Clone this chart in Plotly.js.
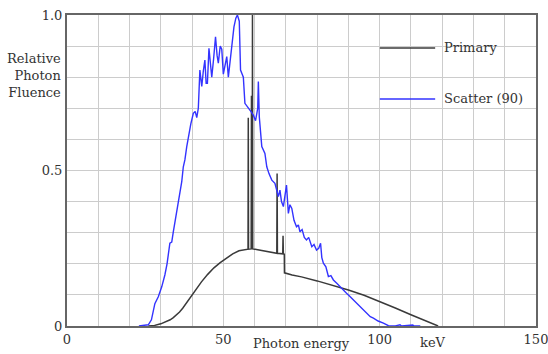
<!DOCTYPE html>
<html>
<head>
<meta charset="utf-8">
<script src="https://cdn.plot.ly/plotly-3.0.1.min.js"></script>
<style>html,body{margin:0;padding:0;background:#fff;}#chart{width:548px;height:354px;}</style>
</head>
<body>
<div id="chart"></div>
<script>
// Primary spectrum (keV, relative fluence) incl. tungsten characteristic lines
const primaryKeV = [26, 28, 30, 32, 33, 34, 35, 36, 37, 38, 39, 40, 41, 43, 45, 47, 49, 51, 53, 55, 57, 57.9, 57.98, 58.06, 58.9, 59.0, 59.1, 59.25, 59.32, 59.4, 61, 63, 65, 67.1, 67.2, 67.3, 69.0, 69.1, 69.2, 69.5, 69.55, 72, 75, 80, 85, 90, 95, 100, 105, 110, 115, 118.7];
const primaryFluence = [0, 0.002, 0.007, 0.014, 0.02, 0.027, 0.035, 0.045, 0.057, 0.071, 0.086, 0.101, 0.115, 0.142, 0.166, 0.187, 0.204, 0.219, 0.232, 0.242, 0.246, 0.247, 0.67, 0.247, 0.248, 0.74, 0.248, 0.248, 1.0, 0.248, 0.245, 0.241, 0.237, 0.234, 0.49, 0.234, 0.232, 0.29, 0.232, 0.231, 0.171, 0.164, 0.158, 0.145, 0.131, 0.116, 0.099, 0.079, 0.058, 0.036, 0.014, 0];

// Scatter (90 deg) spectrum
const scatterKeV = [23, 24.5, 26, 27, 28.1, 29.2, 30.3, 31.3, 32, 32.9, 33.5, 34.0, 34.8, 35.6, 36.2, 36.7, 37.2, 37.7, 38.3, 39.0, 39.6, 40.4, 41.0, 41.5, 42.0, 42.5, 43.1, 43.6, 44.1, 44.5, 44.9, 45.4, 46.3, 46.9, 47.5, 48.0, 48.4, 49.0, 49.5, 50.0, 50.5, 51.1, 51.6, 52.2, 52.7, 53.4, 54.0, 54.5, 55.1, 55.5, 56.0, 56.4, 56.9, 57.4, 58.0, 58.8, 59.6, 60.3, 61.0, 61.2, 61.5, 62.3, 63.3, 63.9, 64.6, 65.5, 66.5, 67.0, 67.6, 68.1, 68.6, 69.2, 69.7, 70.2, 70.8, 71.3, 71.9, 72.6, 73.4, 74.0, 74.5, 75.2, 75.9, 76.6, 77.3, 78.3, 79.0, 79.8, 80.5, 81.1, 81.5, 82.0, 82.8, 83.6, 84.4, 85.2, 86.2, 87.3, 88.3, 89.4, 90.5, 91.6, 92.6, 93.7, 94.8, 95.8, 97.0, 98.0, 99.5, 101.2, 102.8, 105, 106.5, 107, 110.6, 111, 113];
const scatterFluence = [0, 0.003, 0.004, 0.02, 0.072, 0.094, 0.126, 0.164, 0.2, 0.266, 0.27, 0.303, 0.35, 0.395, 0.43, 0.464, 0.512, 0.534, 0.577, 0.62, 0.65, 0.684, 0.69, 0.67, 0.70, 0.823, 0.77, 0.82, 0.855, 0.78, 0.78, 0.893, 0.80, 0.86, 0.93, 0.87, 0.845, 0.9, 0.89, 0.81, 0.84, 0.866, 0.80, 0.85, 0.91, 0.962, 0.99, 1.0, 0.98, 0.823, 0.81, 0.80, 0.716, 0.71, 0.70, 0.69, 0.678, 0.66, 0.7, 0.786, 0.673, 0.577, 0.555, 0.512, 0.49, 0.469, 0.459, 0.44, 0.416, 0.437, 0.40, 0.384, 0.42, 0.453, 0.362, 0.39, 0.378, 0.34, 0.319, 0.325, 0.303, 0.31, 0.285, 0.277, 0.285, 0.255, 0.262, 0.244, 0.25, 0.266, 0.22, 0.202, 0.19, 0.159, 0.162, 0.148, 0.138, 0.126, 0.118, 0.105, 0.095, 0.084, 0.075, 0.062, 0.052, 0.041, 0.03, 0.025, 0.016, 0.009, 0.001, 0, 0.004, 0, 0.003, 0, 0];

const xTickVals = [0, 50, 100, 150];
const xTickText = ['0', '50', '100', '150'];
const yTickVals = [0, 0.5, 1.0];
const yTickText = ['0', '0.5', '1.0'];
const seriesNames = ['Primary', 'Scatter (90)'];

const FONT = 'DejaVu Serif';
const FS = 13;
const TXT = '#333333';
const GRID = '#cccccc';
const primaryColor = '#3a3a3a';
const scatterColor = '#3333ff';

const traces = [
  {x: primaryKeV, y: primaryFluence, mode: 'lines', name: seriesNames[0],
   line: {color: primaryColor, width: 1.5}, hoverinfo: 'skip'},
  {x: scatterKeV, y: scatterFluence, mode: 'lines', name: seriesNames[1],
   line: {color: scatterColor, width: 1.4}, hoverinfo: 'skip'}
];

const layout = {
  width: 548, height: 354,
  margin: {l: 67, r: 12, t: 15, b: 28},
  paper_bgcolor: '#ffffff', plot_bgcolor: '#ffffff',
  showlegend: false,
  font: {family: FONT, size: FS, color: TXT},
  xaxis: {
    range: [0, 150], tickvals: xTickVals, ticktext: xTickText,
    ticklabeloverflow: 'allow',
    showgrid: true, gridcolor: GRID, gridwidth: 1,
    minor: {dtick: 10, tick0: 0, showgrid: true, gridcolor: GRID, gridwidth: 1},
    showline: true, linecolor: '#666666', linewidth: 2, mirror: true,
    ticks: '', zeroline: false, fixedrange: true,
    tickfont: {family: FONT, size: FS, color: TXT}
  },
  yaxis: {
    range: [0, 1], tickvals: yTickVals, ticktext: yTickText,
    showgrid: true, gridcolor: GRID, gridwidth: 1,
    minor: {dtick: 0.1, tick0: 0, showgrid: true, gridcolor: GRID, gridwidth: 1},
    showline: true, linecolor: '#666666', linewidth: 2, mirror: true,
    ticks: '', zeroline: false, fixedrange: true,
    tickfont: {family: FONT, size: FS, color: TXT}
  },
  shapes: [
    {type: 'line', xref: 'paper', yref: 'paper', x0: 0.667, x1: 0.785, y0: 0.894, y1: 0.894,
     line: {color: primaryColor, width: 1.5}},
    {type: 'line', xref: 'paper', yref: 'paper', x0: 0.667, x1: 0.785, y0: 0.73, y1: 0.73,
     line: {color: scatterColor, width: 1.4}}
  ],
  annotations: [
    {xref: 'paper', yref: 'paper', x: 0.80, y: 0.894, xanchor: 'left', yanchor: 'middle',
     text: seriesNames[0], showarrow: false, font: {family: FONT, size: FS, color: TXT}},
    {xref: 'paper', yref: 'paper', x: 0.80, y: 0.73, xanchor: 'left', yanchor: 'middle',
     text: seriesNames[1], showarrow: false, font: {family: FONT, size: FS, color: TXT}},
    {xref: 'paper', yref: 'paper', x: -0.008, y: 0.804, xanchor: 'right', yanchor: 'middle',
     align: 'right', text: 'Relative<br>Photon<br>Fluence', showarrow: false,
     font: {family: FONT, size: FS, color: TXT}},
    {xref: 'x', yref: 'paper', x: 117, y: -0.022, xanchor: 'center', yanchor: 'top',
     text: 'keV', showarrow: false, font: {family: FONT, size: FS, color: TXT}},
    {xref: 'paper', yref: 'paper', x: 0.5, y: -0.087, xanchor: 'center', yanchor: 'bottom',
     text: 'Photon energy', showarrow: false, font: {family: FONT, size: FS, color: TXT}}
  ]
};

Plotly.newPlot('chart', traces, layout, {staticPlot: true, displayModeBar: false});
</script>
</body>
</html>
